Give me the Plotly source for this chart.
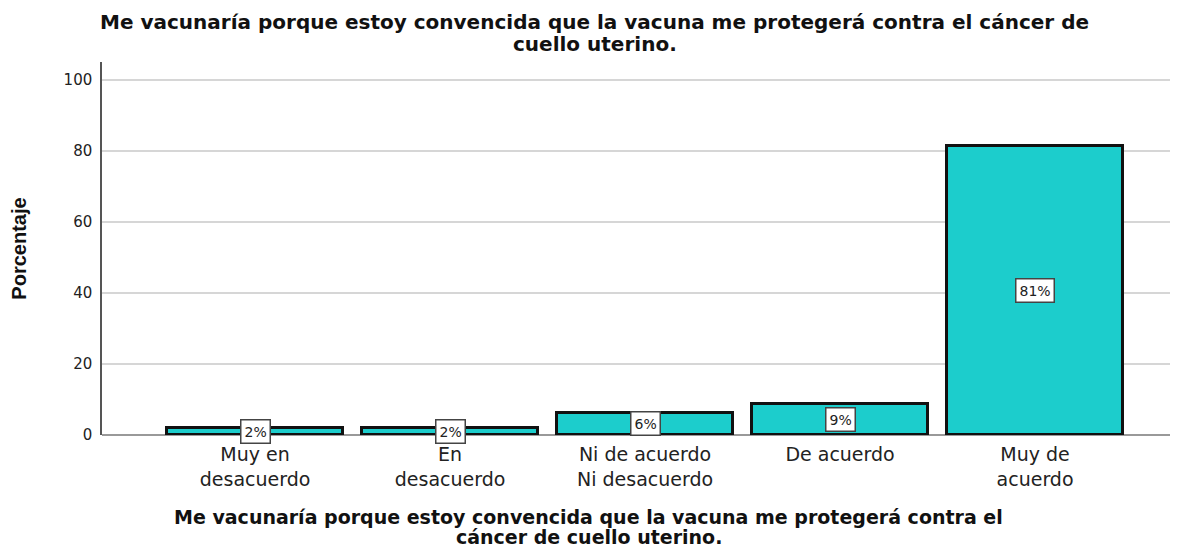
import plotly.graph_objects as go

categories = ["Muy en<br>desacuerdo", "En<br>desacuerdo", "Ni de acuerdo<br>Ni desacuerdo", "De acuerdo", "Muy de<br>acuerdo"]
values = [1.9, 1.9, 6.3, 8.6, 81.3]
labels = ["2%", "2%", "6%", "9%", "81%"]
y_ticks = [0, 20, 40, 60, 80, 100]

title_lines = ["Me vacunaría porque estoy convencida que la vacuna me protegerá contra el cáncer de",
               "cuello uterino."]
xtitle_lines = ["Me vacunaría porque estoy convencida que la vacuna me protegerá contra el",
                "cáncer de cuello uterino."]

x_idx = list(range(len(categories)))
TFONT = "DejaVu Sans, Verdana, sans-serif"

fig = go.Figure()
fig.add_trace(go.Bar(
    x=x_idx, y=values, width=0.9,
    marker=dict(color="#1ccdcc", line=dict(color="#111111", width=3)),
    hoverinfo="skip",
))

for xi, v, lab in zip(x_idx, values, labels):
    fig.add_annotation(
        x=xi, y=v / 2, text=lab, showarrow=False,
        font=dict(family=TFONT, size=14, color="#222"),
        bgcolor="white", bordercolor="#444", borderwidth=1.5, borderpad=3,
        xref="x", yref="y",
    )

for i, line in enumerate(title_lines):
    fig.add_annotation(
        x=0.4586, y=1.0, xref="paper", yref="paper", yanchor="middle",
        text="<b>" + line + "</b>", showarrow=False, yshift=40 - 22 * i,
        font=dict(family=TFONT, size=20, color="#111"),
    )
for i, line in enumerate(xtitle_lines):
    fig.add_annotation(
        x=0.453, y=0, xref="paper", yref="paper", yanchor="middle",
        text="<b>" + line + "</b>", showarrow=False, yshift=-82 - 20 * i,
        font=dict(family=TFONT, size=19, color="#111"),
    )

fig.update_layout(
    width=1170, height=540,
    margin=dict(l=94, r=1, t=54, b=113),
    plot_bgcolor="white", paper_bgcolor="white",
    showlegend=False,
    bargap=0,
    xaxis=dict(
        tickmode="array", tickvals=x_idx, ticktext=categories,
        range=[-0.785, 4.728], showgrid=False, automargin=False,
        ticks="outside", ticklen=2, tickcolor="rgba(0,0,0,0)",
        tickfont=dict(family=TFONT, size=19, color="#222"),
        showline=False, zeroline=False,
    ),
    yaxis=dict(
        range=[0, 105], tickvals=y_ticks, showgrid=True, gridcolor="#d6d6d6", gridwidth=1.5,
        tickfont=dict(family=TFONT, size=15, color="#222"), automargin=False,
        showline=True, linecolor="#555", linewidth=1.5,
        ticks="outside", ticklen=5, tickcolor="rgba(0,0,0,0)",
        zeroline=True, zerolinecolor="#999", zerolinewidth=2,
        title=dict(text="<b>Porcentaje</b>", font=dict(family="Liberation Sans, Arial", size=20, color="#111"), standoff=36),
    ),
)

fig.write_html("out.html")
